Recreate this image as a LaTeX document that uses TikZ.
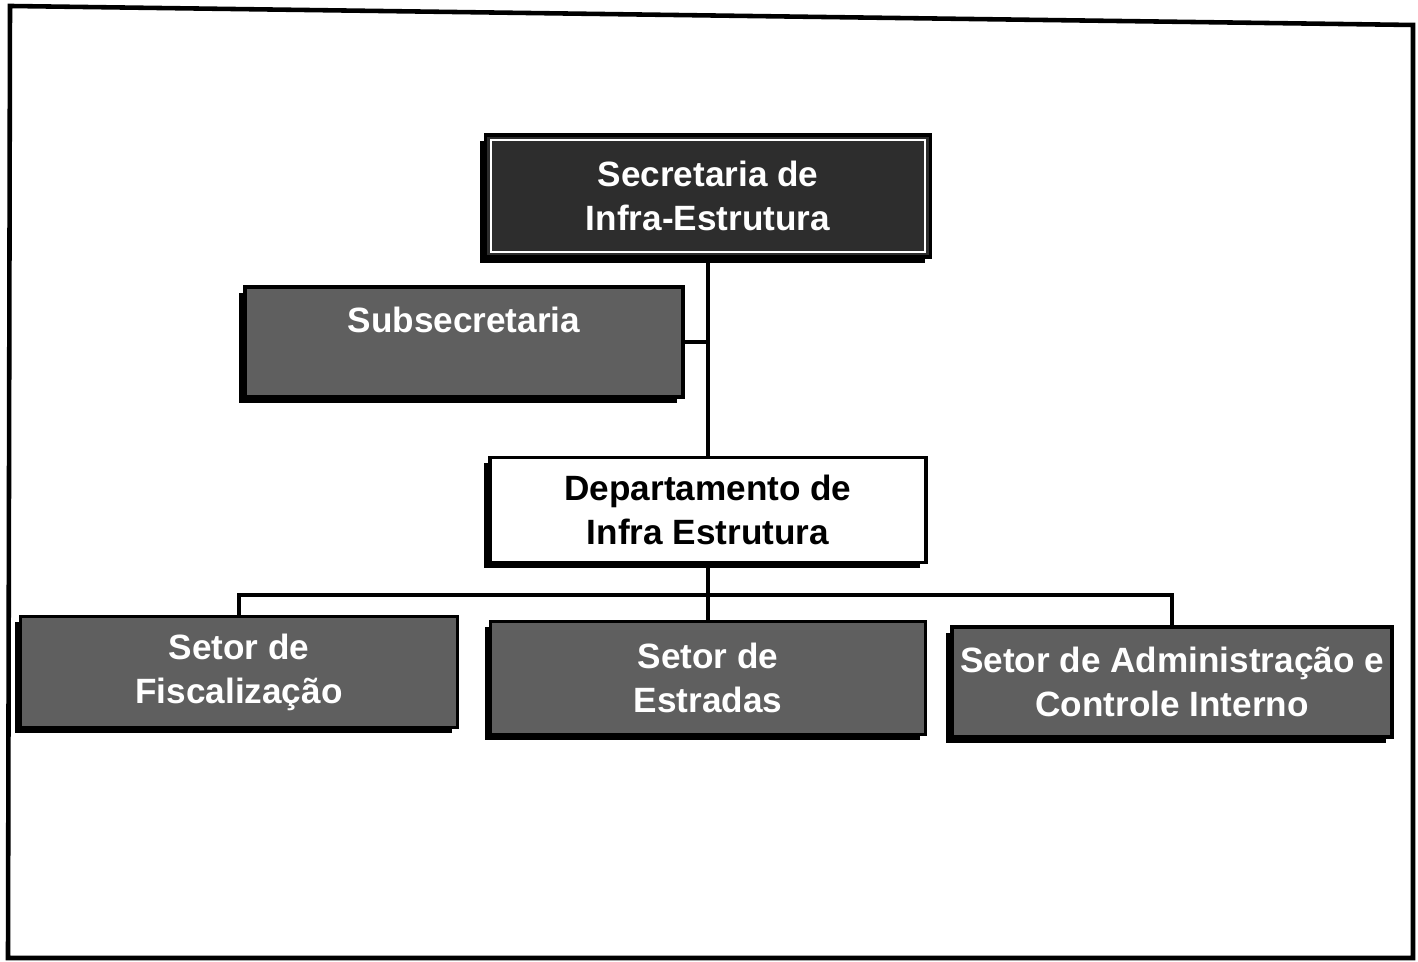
\documentclass[tikz,border=0pt]{standalone}
\usepackage{fontspec}
\setsansfont{Liberation Sans}
\usetikzlibrary{shadows}
\definecolor{orgdark}{RGB}{45, 45, 45}
\definecolor{orggray}{RGB}{95, 95, 95}

\begin{document}
\begin{tikzpicture}[font=\sffamily\bfseries\fontsize{10}{12.5}\selectfont,
  orgbox/.style={draw=black, line width=1pt, align=center, inner sep=2pt,
    minimum width=4.38cm, minimum height=1.10cm,
    drop shadow={shadow xshift=-0.6mm, shadow yshift=-0.6mm, fill=black, opacity=1}},
  darkbox/.style={orgbox, fill=orggray, text=white},
  link/.style={draw=black, line width=1pt}]
  \useasboundingbox[fill=white] (0, 0) rectangle (14.18, 9.62);

  % Scanned page frame
  \draw[line width=1.3pt] (0.10, 9.56) -- (14.13, 9.37) -- (14.13, 0.04) -- (0.08, 0.04) -- cycle;

  % Top level
  \node[darkbox, fill=orgdark, minimum width=4.45cm, minimum height=1.22cm] (sec) at (7.08, 7.66) {Secretaria de\\Infra-Estrutura};
  \draw[white, line width=0.6pt] ([shift={(0.07, 0.07)}]sec.south west) rectangle ([shift={(-0.07, -0.07)}]sec.north east);

  \node[darkbox] (sub) at (4.64, 6.20) {Subsecretaria\\~};

  % Department
  \node[orgbox, fill=white, minimum width=4.36cm, minimum height=1.05cm] (dep) at (7.08, 4.52) {Departamento de\\Infra Estrutura};

  % Sectors
  \node[darkbox, minimum width=4.37cm, minimum height=1.11cm] (fis) at (2.39, 2.90) {Setor de\\Fiscalização};
  \node[darkbox, minimum width=4.35cm, minimum height=1.13cm] (est) at (7.08, 2.84) {Setor de\\Estradas};
  \node[darkbox, minimum width=4.40cm, minimum height=1.10cm] (adm) at (11.72, 2.80) {Setor de Administração e\\Controle Interno};

  % Connectors
  \draw[link] (sec.south) -- (dep.north);
  \draw[link] (sub.east) -- (sub.east -| sec.south);
  \coordinate (bus) at (7.08, 3.67);
  \draw[link] (dep.south) -- (bus);
  \draw[link] (fis.north) |- (bus) -| (adm.north);
  \draw[link] (bus) -- (est.north);
\end{tikzpicture}
\end{document}
